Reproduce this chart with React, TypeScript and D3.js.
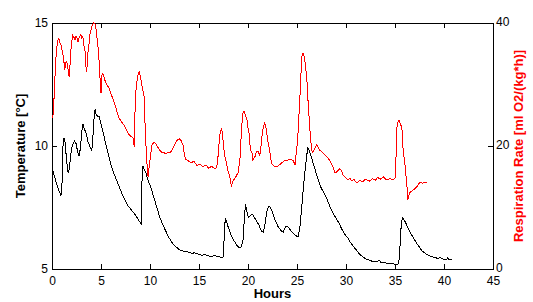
import React, { useEffect, useRef } from 'react'
import { select, scaleLinear, line, axisBottom, axisTop, axisLeft, axisRight } from 'd3'

// temperature record (black, left axis)
const tempHours = [
  0, 0.3, 0.6, 0.9, 1.0, 1.1, 1.2, 1.3, 1.45, 1.6, 1.7, 1.85, 2.0, 2.15, 2.3, 2.45, 2.6, 2.75, 2.9, 3.05,
  3.15, 3.3, 3.5, 3.65, 3.85, 4.05, 4.15, 4.3, 4.4, 4.5, 4.65, 4.8, 5.0, 5.3, 5.6, 5.9, 6.2, 6.5, 6.8, 7.1,
  7.4, 7.7, 8.0, 8.3, 8.6, 8.8, 9.0, 9.1, 9.15, 9.25, 9.4, 9.55, 9.8, 10.1, 10.4, 10.7, 11.0, 11.3, 11.6, 11.9,
  12.2, 12.5, 12.8, 13.1, 13.5, 14.0, 14.3, 14.5, 15.0, 15.3, 15.5, 16.0, 16.3, 16.5, 17.0, 17.4, 17.5, 17.6, 17.7, 17.9,
  18.2, 18.5, 18.8, 19.1, 19.3, 19.5, 19.65, 19.75, 19.9, 20.05, 20.3, 20.5, 20.8, 21.1, 21.35, 21.55, 21.7, 21.9, 22.1, 22.3,
  22.5, 22.8, 23.1, 23.4, 23.6, 23.8, 24.0, 24.3, 24.6, 24.9, 25.1, 25.3, 25.5, 25.7, 25.9, 26.1, 26.25, 26.5, 26.8, 27.1,
  27.4, 27.8, 28.1, 28.4, 28.7, 29.0, 29.3, 29.6, 29.9, 30.2, 30.5, 30.8, 31.1, 31.4, 31.7, 32.0, 32.4, 32.8, 33.2, 33.4,
  33.6, 34.0, 34.5, 35.0, 35.3, 35.45, 35.55, 35.65, 35.8, 36.0, 36.3, 36.6, 36.9, 37.2, 37.5, 37.8, 38.2, 38.6, 39.0, 39.4,
  39.6, 39.8, 40.2, 40.4, 40.5, 40.8
]
const tempValues = [
  9.1, 8.7, 8.3, 8.0, 8.1, 9.9, 10.3, 10.3, 9.6, 9.0, 8.9, 9.4, 9.9, 10.1, 10.2, 10.1, 9.8, 9.6, 9.9, 10.6,
  10.9, 10.7, 10.5, 10.2, 10.0, 9.8, 10.2, 11.2, 11.5, 11.3, 11.2, 11.2, 10.9, 10.4, 9.9, 9.4, 9.0, 8.7, 8.4, 8.1,
  7.85, 7.6, 7.45, 7.3, 7.15, 7.0, 6.9, 6.8, 8.2, 9.2, 9.05, 8.95, 8.6, 8.3, 7.9, 7.5, 7.1, 6.8, 6.55, 6.3,
  6.1, 5.95, 5.85, 5.75, 5.72, 5.68, 5.62, 5.66, 5.6, 5.55, 5.6, 5.53, 5.5, 5.55, 5.5, 5.47, 5.52, 6.7, 7.05, 6.8,
  6.45, 6.2, 6.0, 5.85, 5.9, 6.2, 7.2, 7.65, 7.3, 7.1, 7.2, 7.2, 7.0, 6.8, 6.55, 6.5, 6.7, 7.3, 7.55, 7.5,
  7.3, 6.95, 6.7, 6.55, 6.5, 6.7, 6.75, 6.6, 6.45, 6.35, 6.3, 6.7, 7.6, 8.5, 9.3, 9.95, 9.8, 9.5, 9.1, 8.7,
  8.35, 8.05, 7.8, 7.5, 7.25, 7.05, 6.85, 6.6, 6.4, 6.25, 6.05, 5.9, 5.75, 5.6, 5.5, 5.42, 5.35, 5.3, 5.3, 5.36,
  5.25, 5.25, 5.22, 5.2, 5.18, 5.45, 6.2, 6.9, 7.08, 6.95, 6.7, 6.45, 6.25, 6.05, 5.88, 5.72, 5.6, 5.52, 5.47, 5.43,
  5.48, 5.42, 5.37, 5.46, 5.38, 5.37
]

// respiration record (red, right axis)
const respHours = [
  0, 0.1, 0.2, 0.3, 0.4, 0.5, 0.6, 0.7, 0.8, 0.95, 1.1, 1.2, 1.3, 1.4, 1.5, 1.6, 1.75, 1.85, 1.95, 2.1,
  2.2, 2.35, 2.45, 2.55, 2.65, 2.75, 2.85, 2.95, 3.05, 3.15, 3.25, 3.4, 3.5, 3.6, 3.7, 3.8, 3.9, 4.0, 4.1, 4.25,
  4.4, 4.5, 4.6, 4.7, 4.8, 4.9, 5.0, 5.1, 5.2, 5.4, 5.6, 5.75, 5.9, 6.05, 6.2, 6.35, 6.5, 6.65, 6.8, 6.95,
  7.1, 7.3, 7.45, 7.6, 7.75, 7.9, 8.05, 8.25, 8.35, 8.4, 8.5, 8.6, 8.7, 8.8, 8.9, 9.0, 9.1, 9.2, 9.35, 9.45,
  9.5, 9.6, 9.7, 9.8, 9.9, 10.0, 10.1, 10.2, 10.4, 10.6, 10.8, 11.0, 11.2, 11.4, 11.6, 11.9, 12.1, 12.4, 12.6, 12.8,
  13.0, 13.2, 13.4, 13.5, 13.65, 13.9, 14.2, 14.5, 14.8, 15.1, 15.4, 15.7, 16.0, 16.3, 16.6, 16.8, 16.9, 17.0, 17.1, 17.2,
  17.3, 17.4, 17.5, 17.6, 17.8, 17.95, 18.15, 18.3, 18.45, 18.6, 18.7, 18.85, 19.0, 19.1, 19.2, 19.3, 19.4, 19.5, 19.6, 19.75,
  19.9, 20.0, 20.1, 20.25, 20.4, 20.5, 20.6, 20.7, 20.85, 21.0, 21.2, 21.3, 21.45, 21.6, 21.7, 21.8, 21.9, 22.0, 22.1, 22.2,
  22.4, 22.6, 22.9, 23.1, 23.4, 23.7, 24.0, 24.3, 24.6, 24.8, 24.9, 25.0, 25.1, 25.2, 25.3, 25.4, 25.5, 25.6, 25.7, 25.8,
  25.9, 26.0, 26.1, 26.2, 26.3, 26.4, 26.5, 26.6, 26.8, 27.0, 27.15, 27.3, 27.45, 27.6, 27.8, 28.1, 28.3, 28.5, 28.7, 28.9,
  29.05, 29.2, 29.35, 29.5, 29.7, 29.95, 30.2, 30.4, 30.6, 30.8, 31.1, 31.4, 31.7, 32.0, 32.4, 32.7, 33.0, 33.2, 33.5, 33.8,
  34.1, 34.5, 34.8, 35.0, 35.1, 35.15, 35.2, 35.3, 35.4, 35.55, 35.7, 35.8, 35.9, 36.0, 36.1, 36.2, 36.3, 36.4, 36.5, 36.65,
  36.8, 37.0, 37.2, 37.35, 37.5, 37.7, 37.8, 38.0, 38.3
]
const respValues = [
  24.5, 25.0, 27.5, 31.2, 34.3, 36.1, 37.2, 37.5, 36.8, 36.3, 35.0, 34.0, 32.4, 33.5, 33.7, 33.0, 31.2, 33.5, 36.0, 38.0,
  37.8, 37.3, 37.8, 37.6, 36.9, 37.6, 37.9, 38.1, 37.5, 37.8, 36.4, 35.1, 32.0, 33.2, 36.0, 36.7, 38.5, 39.0, 39.7, 40.0,
  39.8, 39.0, 37.5, 36.0, 34.0, 31.0, 28.6, 31.5, 31.8, 30.7, 29.9, 29.6, 29.1, 28.3, 27.8, 27.0, 26.3, 25.4, 24.7, 24.3,
  23.9, 23.5, 23.1, 22.6, 22.1, 21.8, 21.5, 21.4, 20.5, 19.8, 28.0, 29.5, 31.0, 31.8, 32.0, 31.5, 30.5, 29.6, 28.5, 27.5,
  23.0, 19.8, 17.0, 15.0, 16.5, 17.7, 19.0, 20.2, 20.6, 20.4, 19.8, 19.3, 19.0, 18.9, 18.8, 18.9, 19.0, 19.8, 20.5, 21.0,
  21.2, 20.8, 20.0, 18.6, 17.8, 17.6, 17.3, 17.5, 16.8, 17.1, 16.6, 16.9, 16.4, 16.7, 16.3, 16.5, 17.5, 19.5, 21.5, 22.5,
  22.8, 22.0, 20.0, 18.6, 17.2, 16.0, 15.0, 13.4, 14.3, 14.6, 14.8, 15.3, 15.6, 17.0, 18.2, 21.5, 24.0, 25.5, 25.6, 25.0,
  24.2, 23.0, 22.1, 19.3, 19.0, 17.7, 18.0, 18.2, 19.0, 19.2, 18.5, 19.5, 22.0, 23.3, 23.7, 23.2, 22.3, 21.0, 20.2, 19.3,
  17.2, 16.8, 16.6, 16.8, 17.2, 17.6, 17.7, 17.8, 17.7, 16.9, 18.5, 20.0, 22.0, 25.0, 28.0, 31.5, 34.5, 35.1, 34.8, 34.0,
  32.5, 31.0, 28.0, 25.5, 23.0, 21.0, 19.3, 19.0, 19.5, 20.2, 19.8, 19.3, 19.2, 19.0, 18.6, 18.2, 17.7, 17.2, 16.5, 15.6,
  15.8, 16.0, 16.3, 16.1, 15.3, 14.9, 14.5, 14.8, 14.3, 14.6, 14.0, 14.4, 14.2, 14.6, 14.3, 14.7, 14.4, 14.9, 14.6, 15.0,
  14.5, 14.7, 14.5, 14.8, 18.0, 20.5, 23.0, 23.9, 24.2, 23.6, 23.0, 20.0, 18.5, 17.2, 15.5, 14.0, 11.2, 11.8, 12.4, 12.6,
  12.8, 13.0, 13.3, 13.7, 14.0, 14.1, 13.9, 14.1, 14.0
]

const xTicks = [0, 5, 10, 15, 20, 25, 30, 35, 40, 45]
const tempTicks = [5, 10, 15]
const respTicks = [0, 20, 40]

export default function App() {

  const chart = useRef<SVGSVGElement>(null)

  const width = 533
  const height = 302
  const margin = ({ top: 23, right: 40, bottom: 33, left: 52 })
  const font = '"Liberation Sans", Arial, sans-serif'

  useEffect(() => {
    const svg = select(chart.current)
    svg.selectAll('*').remove()

    const x = scaleLinear().domain([0, 45]).range([margin.left, width - margin.right])
    const yT = scaleLinear().domain([5, 15]).range([height - margin.bottom, margin.top])
    const yR = scaleLinear().domain([0, 40]).range([height - margin.bottom, margin.top])

    const styleAxis = (g: any) => {
      g.attr('font-family', font).attr('font-size', 12)
      g.selectAll('path, line').attr('stroke', '#000').attr('shape-rendering', 'crispEdges')
      g.selectAll('text').attr('fill', '#000')
    }

    // box + inward ticks, matlab style
    svg.append('g')
      .attr('transform', `translate(0,${height - margin.bottom})`)
      .call(axisBottom(x).tickValues(xTicks).tickSizeInner(-5).tickSizeOuter(0).tickPadding(7))
      .call(styleAxis)
    svg.append('g')
      .attr('transform', `translate(0,${margin.top})`)
      .call(axisTop(x).tickValues(xTicks).tickSizeInner(-5).tickSizeOuter(0).tickFormat(() => ''))
      .call(styleAxis)
    svg.append('g')
      .attr('transform', `translate(${margin.left},0)`)
      .call(axisLeft(yT).tickValues(tempTicks).tickSizeInner(-5).tickSizeOuter(0).tickPadding(4))
      .call(styleAxis)
    svg.append('g')
      .attr('transform', `translate(${width - margin.right},0)`)
      .call(axisRight(yR).tickValues(respTicks).tickSizeInner(-5).tickSizeOuter(0).tickPadding(3))
      .call(styleAxis)
      .call((g: any) => g.selectAll('text').attr('dy', '0.22em'))

    const tempLine = line<number>()
      .x((d, i) => x(tempHours[i]))
      .y(d => yT(d))
    const respLine = line<number>()
      .x((d, i) => x(respHours[i]))
      .y(d => yR(d))

    svg.append('path')
      .datum(respValues)
      .attr('fill', 'none')
      .attr('stroke', '#ff0000')
      .attr('stroke-width', 1)
      .attr('shape-rendering', 'crispEdges')
      .attr('d', respLine)

    svg.append('path')
      .datum(tempValues)
      .attr('fill', 'none')
      .attr('stroke', '#000')
      .attr('stroke-width', 1)
      .attr('shape-rendering', 'crispEdges')
      .attr('d', tempLine)

    const midY = (margin.top + height - margin.bottom) / 2

    svg.append('text')
      .attr('x', (margin.left + width - margin.right) / 2)
      .attr('y', 298)
      .attr('text-anchor', 'middle')
      .attr('font-family', font)
      .attr('font-size', 13)
      .attr('font-weight', 'bold')
      .text('Hours')

    svg.append('text')
      .attr('transform', `translate(24.5,${midY}) rotate(-90)`)
      .attr('text-anchor', 'middle')
      .attr('font-family', font)
      .attr('font-size', 13)
      .attr('font-weight', 'bold')
      .text('Temperature [°C]')

    svg.append('text')
      .attr('transform', `translate(523,${midY}) rotate(-90)`)
      .attr('text-anchor', 'middle')
      .attr('font-family', font)
      .attr('font-size', 13)
      .attr('font-weight', 'bold')
      .attr('fill', '#ff0000')
      .text('Respiration Rate [ml O2/(kg*h)]')
  }, [])

  return (
    <svg ref={chart} width={width} height={height}
      style={{ position: 'absolute', left: 0, top: 0, background: '#fff' }} />
  )
}
